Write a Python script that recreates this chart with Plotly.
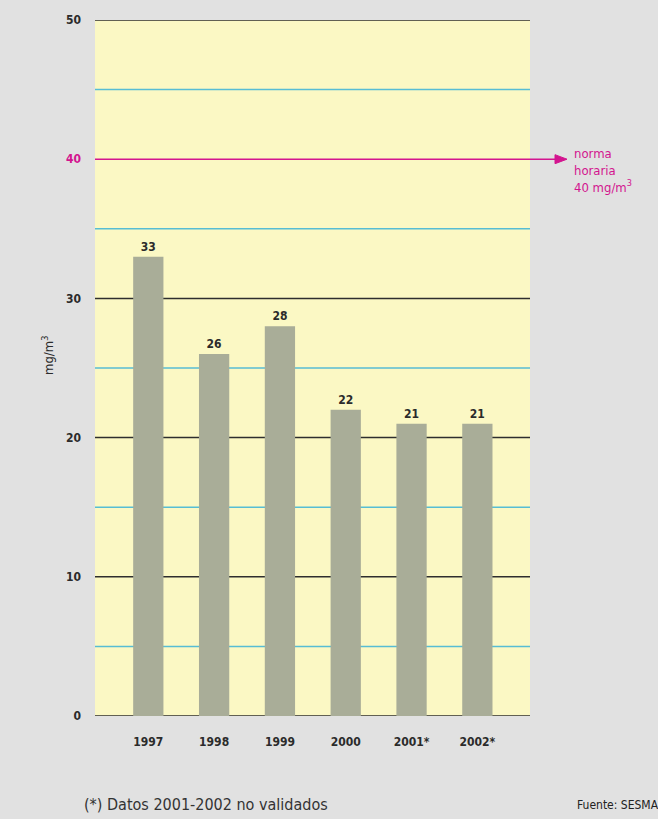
import plotly.graph_objects as go

# Annual mean concentration by year
years = ["1997", "1998", "1999", "2000", "2001*", "2002*"]
values = [33, 26, 28, 22, 21, 21]
norm_value = 40
y_ticks = [0, 10, 20, 30, 40, 50]
major_grid = [10, 20, 30]
minor_grid = [5, 15, 25, 35, 45]

BG = "#e1e1e1"
PLOT_BG = "#fbf8c4"
BAR = "#a9ad98"
MAGENTA = "#d3158f"
GRID_DARK = "#2e2e2e"
GRID_BLUE = "#57bdd4"
TEXT = "#2b2b2b"
COND = "DejaVu Sans Condensed, sans-serif"

L, R, T, B = 95, 128, 20, 103
W, H = 658, 819
PW, PH = W - L - R, H - T - B


def px_x(px):
    return (px - L) / PW


def px_y(px):
    return (H - B - px) / PH


x_idx = list(range(len(years)))

fig = go.Figure()
fig.add_trace(go.Bar(
    x=x_idx, y=values, width=0.46,
    marker=dict(color=BAR, line=dict(width=0)),
    text=[str(v) for v in values], textposition="outside",
    textfont=dict(family=COND, size=12, color=TEXT, weight="bold"),
    cliponaxis=False,
))

tick_text = [f'<span style="color:{MAGENTA}">{t}</span>' if t == norm_value else str(t) for t in y_ticks]

fig.update_layout(
    width=W, height=H,
    margin=dict(l=L, r=R, t=T, b=B),
    paper_bgcolor=BG, plot_bgcolor=PLOT_BG,
    showlegend=False,
    xaxis=dict(
        range=[-0.81, 5.8], tickmode="array", tickvals=x_idx, ticktext=years,
        showgrid=False, zeroline=False, showline=False,
        ticks="", tickfont=dict(family=COND, size=12, color=TEXT, weight="bold"),
        ticklabelstandoff=17,
    ),
    yaxis=dict(
        range=[0, 50], tickmode="array", tickvals=y_ticks, ticktext=tick_text,
        showgrid=False, zeroline=False, showline=False, ticks="",
        tickfont=dict(family=COND, size=12, color=TEXT, weight="bold"),
        ticklabelstandoff=13,
    ),
)

# horizontal grid drawn beneath the bars
for yv in major_grid + [0, 50]:
    fig.add_shape(type="line", xref="paper", yref="y", x0=0, x1=1, y0=yv, y1=yv,
                  line=dict(color=GRID_DARK, width=1.5), layer="below")
for yv in minor_grid:
    fig.add_shape(type="line", xref="paper", yref="y", x0=0, x1=1, y0=yv, y1=yv,
                  line=dict(color=GRID_BLUE, width=1.5), layer="below")

# hourly standard line continuing into an arrow
fig.add_shape(type="line", xref="paper", yref="y", x0=0, x1=px_x(558), y0=norm_value, y1=norm_value,
              line=dict(color=MAGENTA, width=1.5), layer="below")
dy = 4.5 / (PH / 50)
fig.add_shape(type="path", xref="paper", yref="y",
              path=f"M {px_x(555)},{norm_value + dy} L {px_x(567)},{norm_value} L {px_x(555)},{norm_value - dy} Z",
              fillcolor=MAGENTA, line=dict(color=MAGENTA, width=1))
fig.add_annotation(x=px_x(572), y=px_y(144), xref="paper", yref="paper",
                   xanchor="left", yanchor="top", align="left", showarrow=False,
                   text="norma<br>horaria<br>40 mg/m<sup>3</sup>",
                   font=dict(family=COND, size=13, color=MAGENTA))

# y-axis title
fig.add_annotation(x=px_x(38), y=px_y(355), xref="paper", yref="paper", textangle=-90,
                   showarrow=False, text="mg/m<sup>3</sup>",
                   font=dict(family=COND, size=13, color=TEXT))

# footnote and source
fig.add_annotation(x=px_x(82), y=px_y(805), xref="paper", yref="paper",
                   xanchor="left", yanchor="middle", showarrow=False,
                   text="(*) Datos 2001-2002 no validados",
                   font=dict(family=COND, size=16, color="#333333"))
fig.add_annotation(x=px_x(575), y=px_y(805), xref="paper", yref="paper",
                   xanchor="left", yanchor="middle", showarrow=False,
                   text="Fuente: SESMA",
                   font=dict(family=COND, size=12, color="#222222"))

fig.write_html("out.html")
